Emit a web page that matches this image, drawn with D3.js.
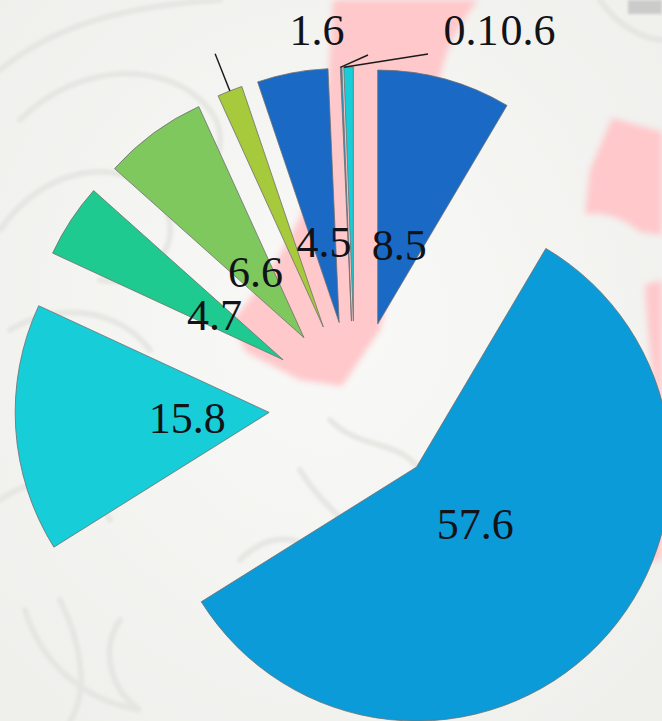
<!DOCTYPE html>
<html><head><meta charset="utf-8">
<script src="https://cdn.jsdelivr.net/npm/d3@7/dist/d3.min.js"></script>
<style>html,body{margin:0;padding:0;background:#f3f3f0;} svg{display:block}</style>
</head><body>
<svg id="chart" width="662" height="721"></svg>
<script>
// ---- data ----
const categories = ["S1","S2","S3","S4","S5","S6","S7","S8","S9"];
const values = [8.5, 57.6, 15.8, 4.7, 6.6, 1.6, 4.5, 0.1, 0.6];
const valueLabels = ["8.5","57.6","15.8","4.7","6.6","1.6","4.5","0.1","0.6"];
const palette = ["#1a69c5","#0a9bd8","#17cdd8","#1fca90","#7fc85e","#a7c93c"];

// ---- layout ----
const W = 662, H = 721;
const cx = 355, cy = 407, R = 254, explode = 86, labelR = 82;
// outside labels (index -> text anchor point, leader end, leader start fraction along arc)
const outside = {
  5: {tx: 317, ty: 45, end: null, frac: 0.5},
  7: {tx: 471, ty: 45, end: [368, 55], frac: 0.0},
  8: {tx: 528, ty: 45, end: [428, 54], frac: 0.0}
};

const svg = d3.select("#chart");
const defs = svg.append("defs");
defs.append("filter").attr("id","blur").append("feGaussianBlur").attr("stdDeviation", 3);
defs.append("filter").attr("id","blur2").append("feGaussianBlur").attr("stdDeviation", 1.5);
const rg = defs.append("radialGradient").attr("id","bgGrad").attr("cx","50%").attr("cy","45%").attr("r","70%");
rg.append("stop").attr("offset","0%").attr("stop-color","#f9f9f7");
rg.append("stop").attr("offset","100%").attr("stop-color","#efefec");

// ---- background decoration ----
const bg = svg.append("g");
bg.append("rect").attr("width", W).attr("height", H).attr("fill", "url(#bgGrad)");
const swirl = bg.append("g").attr("fill","none").attr("stroke","#e3e3df").attr("stroke-width",6)
  .attr("stroke-linecap","round").attr("filter","url(#blur2)").attr("opacity",0.8);
[
  "M0,70 C60,20 140,5 220,0",
  "M20,120 C80,60 170,60 210,110 C240,150 200,200 150,190",
  "M0,230 C40,170 120,150 160,200 C190,240 150,290 100,280",
  "M10,330 C60,300 120,310 150,350",
  "M0,500 C40,470 90,480 110,520",
  "M60,600 C80,640 90,690 70,721",
  "M25,610 C40,660 80,700 140,710 C110,690 100,650 120,620",
  "M330,420 C360,450 400,440 420,470",
  "M300,470 C330,520 380,540 400,600",
  "M240,560 C280,520 330,540 330,600",
  "M600,0 C620,30 650,40 662,40"
].forEach(d => swirl.append("path").attr("d", d));

const pink = bg.append("g").attr("fill","#ffc8cb").attr("filter","url(#blur)");
pink.append("path").attr("d",
  "M333,0 L478,0 C458,25 444,50 436,95 L380,330 L342,386 L300,380 L246,352 L232,322 C262,285 298,235 316,175 C326,120 330,60 333,0 Z");
pink.append("path").attr("d",
  "M612,118 L662,132 L662,235 L640,232 C620,215 600,212 585,214 L590,170 Z");
pink.append("path").attr("d",
  "M645,285 L662,280 L662,430 C655,400 648,340 645,285 Z");
pink.append("path").attr("d",
  "M560,520 C585,480 600,440 620,420 L662,430 L662,560 L580,560 Z");
bg.append("rect").attr("x",628).attr("y",0).attr("width",34).attr("height",14).attr("fill","#cbcbcb").attr("filter","url(#blur2)");

// ---- pie ----
const pie = d3.pie().sort(null).value(d => d);
const arcs = pie(values);
const arc = d3.arc().innerRadius(0).outerRadius(R);
const labelArc = d3.arc().innerRadius(labelR).outerRadius(labelR);

const off = a => {
  const m = (a.startAngle + a.endAngle) / 2;
  return [explode * Math.sin(m), -explode * Math.cos(m)];
};

const g = svg.append("g").attr("transform", `translate(${cx},${cy})`);

g.selectAll("path.slice").data(arcs).join("path")
  .attr("class","slice")
  .attr("transform", a => `translate(${off(a)[0]},${off(a)[1]})`)
  .attr("d", arc)
  .attr("fill", (a,i) => palette[i % palette.length])
  .attr("stroke", "#707070")
  .attr("stroke-width", 0.8)
  .attr("stroke-linejoin","round");

// inside labels
const txt = svg.append("g").attr("font-family","'Liberation Serif','Times New Roman',serif")
  .attr("font-size", 44).attr("fill", "#111318");
arcs.forEach((a,i) => {
  if (outside[i]) return;
  const o = off(a), c = labelArc.centroid(a);
  txt.append("text").attr("x", cx + o[0] + c[0]).attr("y", cy + o[1] + c[1])
    .attr("dy","0.34em").attr("text-anchor","middle").text(valueLabels[i]);
});

// outside labels with leaders
const lead = svg.append("g").attr("stroke","#1a1a1a").attr("stroke-width",1.4).attr("fill","none");
arcs.forEach((a,i) => {
  const L = outside[i]; if (!L) return;
  const o = off(a);
  const ang = a.startAngle + (a.endAngle - a.startAngle) * L.frac;
  const sx = cx + o[0] + R * Math.sin(ang), sy = cy + o[1] - R * Math.cos(ang);
  let ex, ey;
  if (L.end) { ex = L.end[0]; ey = L.end[1]; }
  else { ex = cx + o[0] + (R + 40) * Math.sin(ang); ey = cy + o[1] - (R + 40) * Math.cos(ang); }
  lead.append("line").attr("x1", sx).attr("y1", sy).attr("x2", ex).attr("y2", ey);
  txt.append("text").attr("x", L.tx).attr("y", L.ty).attr("text-anchor","middle").text(valueLabels[i]);
});
</script>
</body></html>
